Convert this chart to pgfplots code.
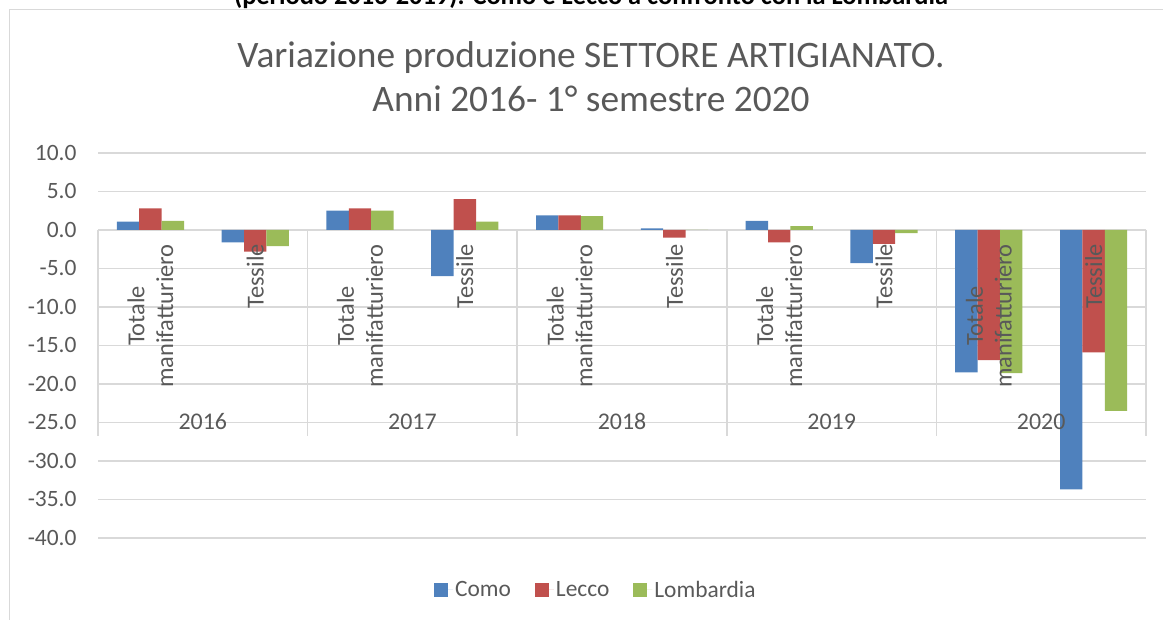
\documentclass[border=0pt]{standalone}
\usepackage{fontspec}
\setmainfont{Carlito}
\usepackage{pgfplots}
\pgfplotsset{compat=1.18}
\definecolor{como}{HTML}{4F81BD}
\definecolor{lecco}{HTML}{C0504D}
\definecolor{lomb}{HTML}{9BBB59}
\definecolor{gridc}{HTML}{D9D9D9}
\definecolor{txt}{HTML}{595959}
\pgfplotsset{
  sq/.style={legend image code/.code={\path[##1,draw=none] (0bp,-7bp) rectangle (14bp,7bp); \path (0bp,0bp) -- (19bp,0bp);}},
}
\begin{document}
\begin{tikzpicture}[x=1bp,y=1bp]
\draw[gridc, line width=1.5bp] (9.5,-50) -- (9.5,610.5) -- (1250,610.5);
\node[anchor=base, font=\fontsize{26.5}{30}\selectfont\bfseries] at (591,615.5) {(periodo 2016-2019). Como e Lecco a confronto con la Lombardia};
\node[anchor=base, text=txt, font=\fontsize{37.5}{44}\selectfont] at (591,552) {Variazione produzione SETTORE ARTIGIANATO.};
\node[anchor=base, text=txt, font=\fontsize{37.5}{44}\selectfont] at (591,508) {Anni 2016- 1° semestre 2020};
\begin{axis}[
  set layers=standard,
  at={(98bp,82bp)}, anchor=south west,
  width=1048bp, height=385bp, scale only axis,
  ymin=-40, ymax=10, xmin=-0.5, xmax=9.5,
  axis x line*=middle, axis y line*=left,
  axis line style={draw=none},
  ytick={-40,-35,...,10},
  ymajorgrids, grid style={gridc, line width=1.5bp},
  major tick length=0pt,
  xtick={0,...,9},
  xticklabels={{Totale\\manifatturiero},Tessile,{Totale\\manifatturiero},Tessile,{Totale\\manifatturiero},Tessile,{Totale\\manifatturiero},Tessile,{Totale\\manifatturiero},Tessile},
  xticklabel style={/pgfplots/on layer=axis foreground, rotate=90, anchor=east, align=center, text=txt, inner xsep=14bp, font=\fontsize{24.5}{29}\selectfont},
  yticklabel style={text=txt, font=\fontsize{23.5}{28}\selectfont, xshift=-18bp,
    /pgf/number format/fixed, /pgf/number format/fixed zerofill, /pgf/number format/precision=1},
  /pgf/number format/assume math mode=true,
  ybar=0pt, bar width=22.4bp,
  legend style={at={(0.475,-0.135)}, anchor=center, legend columns=3, draw=none, fill=none,
    text=txt, font=\fontsize{23.5}{28}\selectfont,
    /tikz/every even column/.append style={column sep=22bp}},
  clip=false,
]
\addplot[fill=como, draw=none, sq] coordinates {(0,1.1) (1,-1.6) (2,2.5) (3,-6.0) (4,1.9) (5,0.2) (6,1.2) (7,-4.3) (8,-18.5) (9,-33.7)};
\addplot[fill=lecco, draw=none, sq] coordinates {(0,2.8) (1,-2.8) (2,2.8) (3,4.0) (4,1.9) (5,-1.0) (6,-1.6) (7,-1.8) (8,-16.9) (9,-15.9)};
\addplot[fill=lomb, draw=none, sq] coordinates {(0,1.2) (1,-2.1) (2,2.5) (3,1.1) (4,1.8) (5,0.0) (6,0.5) (7,-0.4) (8,-18.6) (9,-23.5)};
\legend{Como,Lecco,Lombardia}
\pgfplotsinvokeforeach{-0.5,1.5,3.5,5.5,7.5,9.5}{
  \draw[gridc, line width=1.5bp] (axis cs:#1,0) -- (axis cs:#1,-26.8);
}
\node[text=txt, font=\fontsize{24}{28}\selectfont] at (axis cs:0.5,-24.9) {2016};
\node[text=txt, font=\fontsize{24}{28}\selectfont] at (axis cs:2.5,-24.9) {2017};
\node[text=txt, font=\fontsize{24}{28}\selectfont] at (axis cs:4.5,-24.9) {2018};
\node[text=txt, font=\fontsize{24}{28}\selectfont] at (axis cs:6.5,-24.9) {2019};
\node[text=txt, font=\fontsize{24}{28}\selectfont] at (axis cs:8.5,-24.9) {2020};
\end{axis}
\pgfresetboundingbox
\useasboundingbox (0,0) rectangle (1163,620);
\end{tikzpicture}
\end{document}
